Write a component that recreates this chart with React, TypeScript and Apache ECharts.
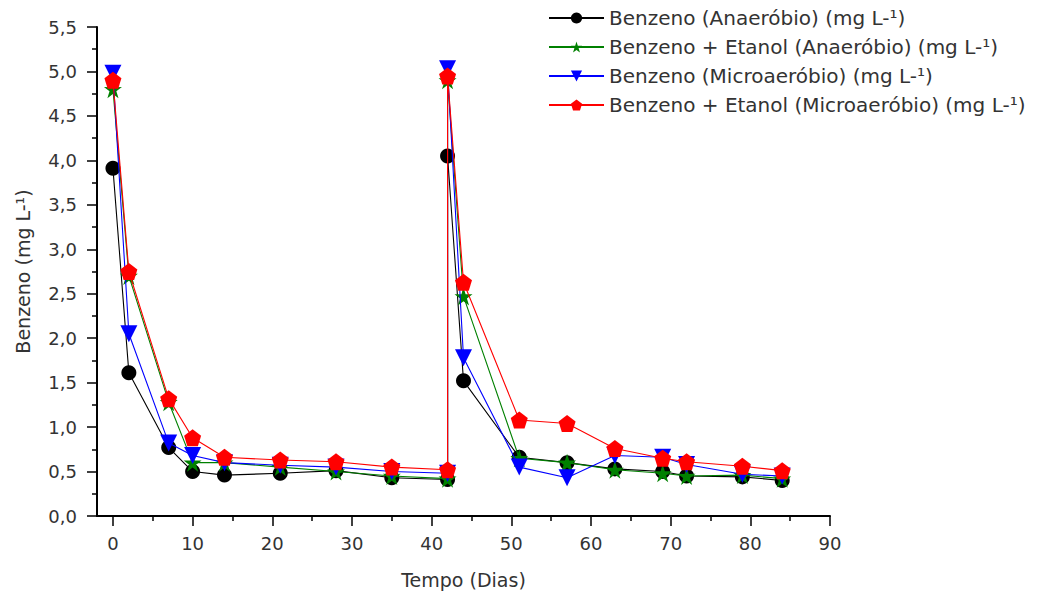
import React, { useEffect, useRef } from "react";
import * as echarts from "echarts";

const days = [0, 2, 7, 10, 14, 21, 28, 35, 42, 42, 44, 51, 57, 63, 69, 72, 79, 84];
const benzAnaer = [3.91, 1.61, 0.77, 0.5, 0.46, 0.48, 0.51, 0.43, 0.41, 4.05, 1.52, 0.66, 0.6, 0.53, 0.5, 0.45, 0.44, 0.4];
const benzEtAnaer = [4.8, 2.7, 1.28, 0.6, 0.6, 0.55, 0.5, 0.45, 0.42, 4.9, 2.47, 0.65, 0.6, 0.52, 0.48, 0.45, 0.46, 0.42];
const benzMicro = [4.98, 2.05, 0.82, 0.68, 0.6, 0.57, 0.55, 0.5, 0.48, 5.03, 1.78, 0.55, 0.43, 0.68, 0.66, 0.58, 0.47, 0.45];
const benzEtMicro = [4.9, 2.75, 1.32, 0.88, 0.66, 0.63, 0.61, 0.55, 0.52, 4.95, 2.63, 1.08, 1.04, 0.76, 0.65, 0.61, 0.56, 0.51];
const seriesNames = [
  "Benzeno (Anaeróbio) (mg L-¹)",
  "Benzeno + Etanol (Anaeróbio) (mg L-¹)",
  "Benzeno (Microaeróbio) (mg L-¹)",
  "Benzeno + Etanol (Microaeróbio) (mg L-¹)",
];
const seriesColors = ["#000000", "#008000", "#0000ff", "#ff0000"];
const xMajorTicks = [0, 10, 20, 30, 40, 50, 60, 70, 80, 90];
const xMinorTicks = [5, 15, 25, 35, 45, 55, 65, 75, 85];
const xName = "Tempo (Dias)";
const yName = "Benzeno (mg L-¹)";

const STAR =
  "path://M0,-1 L0.2234,-0.3074 L0.951,-0.309 L0.3614,0.1174 L0.5878,0.809 L0,0.38 L-0.5878,0.809 L-0.3614,0.1174 L-0.951,-0.309 L-0.2234,-0.3074 Z";
const PENTAGON = "path://M0,-1 L0.951,-0.309 L0.588,0.809 L-0.588,0.809 L-0.951,-0.309 Z";
const TRI_DOWN = "path://M-1,-1 L1,-1 L0,1 Z";
const symbols = ["circle", STAR, TRI_DOWN, PENTAGON];
const symbolSizes = [15, 18, 17, 17];

const FONT = "DejaVu Sans";
const TEXT = "#333";

export default function App() {
  const ref = useRef<HTMLDivElement>(null);
  useEffect(() => {
    if (!ref.current) return;
    const chart = echarts.init(ref.current, undefined, { renderer: "svg" });
    const allValues = [benzAnaer, benzEtAnaer, benzMicro, benzEtMicro];
    const lineStyle = { color: "#000", width: 2 };
    const tickStyle = { color: "#000", width: 1.5 };
    chart.setOption({
      animation: false,
      backgroundColor: "#fff",
      grid: {
        left: 97,
        right: 216,
        top: 27,
        bottom: 78,
        containLabel: false,
        outerBoundsMode: "none",
      },
      legend: {
        orient: "vertical",
        left: 548,
        top: 8,
        padding: 0,
        itemWidth: 55,
        itemHeight: 14,
        itemGap: 9,
        textStyle: { fontFamily: FONT, fontSize: 20, color: TEXT },
        data: seriesNames,
      },
      xAxis: [
        {
          type: "value",
          min: -2,
          max: 90,
          interval: 10,
          axisLine: { show: true, onZero: false, lineStyle },
          axisTick: { show: true, length: 10, lineStyle: tickStyle, customValues: xMajorTicks },
          splitLine: { show: false },
          axisLabel: {
            fontFamily: FONT,
            fontSize: 18,
            color: TEXT,
            margin: 18,
            customValues: xMajorTicks,
          },
          name: xName,
          nameLocation: "middle",
          nameGap: 54,
          nameTextStyle: { fontFamily: FONT, fontSize: 19, color: TEXT },
        },
        {
          type: "value",
          position: "bottom",
          min: -2,
          max: 90,
          interval: 10,
          axisLine: { show: false, onZero: false },
          axisTick: { show: true, length: 5, lineStyle: tickStyle, customValues: xMinorTicks },
          axisLabel: { show: false },
          splitLine: { show: false },
        },
      ],
      yAxis: {
        type: "value",
        min: 0,
        max: 5.5,
        interval: 0.5,
        axisLine: { show: true, onZero: false, lineStyle },
        axisTick: { show: true, length: 10, lineStyle: tickStyle },
        minorTick: { show: true, splitNumber: 2, length: 5, lineStyle: tickStyle },
        splitLine: { show: false },
        axisLabel: {
          fontFamily: FONT,
          fontSize: 18,
          color: TEXT,
          margin: 20,
          formatter: (v: number) => v.toFixed(1).replace(".", ","),
        },
        name: yName,
        nameLocation: "middle",
        nameGap: 65,
        nameTextStyle: { fontFamily: FONT, fontSize: 19, color: TEXT },
      },
      series: seriesNames.map((name, i) => ({
        name,
        type: "line",
        xAxisIndex: 0,
        data: days.map((d, j) => [d, allValues[i][j]]),
        symbol: symbols[i],
        symbolSize: symbolSizes[i],
        showAllSymbol: true,
        color: seriesColors[i],
        lineStyle: { color: seriesColors[i], width: 1.1 },
        itemStyle: { color: seriesColors[i] },
        z: 2 + i,
      })),
    });
    return () => chart.dispose();
  }, []);
  return (
    <div
      ref={ref}
      style={{ position: "fixed", left: 0, top: 0, width: 1046, height: 594 }}
    />
  );
}
